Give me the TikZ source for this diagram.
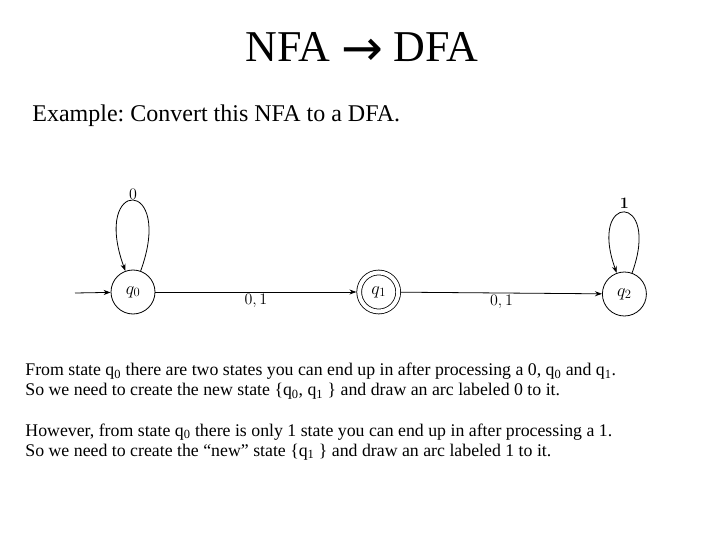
\RequirePackage{fix-cm}
\documentclass[tikz,border=0pt]{standalone}
\usepackage[no-math]{fontspec}
\setmainfont{Liberation Serif}
\newfontfamily\arrowfont{DejaVu Sans}
\usetikzlibrary{arrows.meta,positioning}
\frenchspacing

\begin{document}
\begin{tikzpicture}[->, >={Stealth[length=7pt,width=5pt]}, x=1pt, y=1pt, line width=0.8pt,
  node distance=201pt,
  nstate/.style={circle, draw, minimum size=44pt, inner sep=0pt,
    font=\fontsize{18}{21}\selectfont},
  final/.style={double, double distance=4pt, minimum size=39pt, outer sep=2.8pt},
  lbl/.style={font=\fontsize{16}{19}\selectfont, inner sep=2pt},
  slidetext/.style={anchor=base west, inner sep=0pt, font=\fontsize{17.8}{20}\selectfont}]

\useasboundingbox (0,0) rectangle (720,-540);
\fill[white] (0,0) rectangle (720,-540);

% title and task
\node[anchor=base, inner sep=0pt, font=\fontsize{44}{53}\selectfont] (title) at (362,-62)
  {NFA \raisebox{-3.5pt}{\arrowfont\fontsize{50}{60}\selectfont →} DFA};
\node[anchor=base west, inner sep=0pt, font=\fontsize{24}{29}\selectfont] (task) at (32,-122)
  {Example: Convert this NFA to a DFA.};

% the NFA
\node[nstate] (q0) at (133,-292) {$q_0$};
\node[nstate, final, right=of q0] (q1) {$q_1$};
\node[nstate, right=of q1, yshift=-2pt] (q2) {$q_2$};
\coordinate (start) at (75,-293);

\draw (start) -- (q0);
\draw (q0) -- node[lbl, below] {$0, 1$} (q1);
\draw (q1) -- node[lbl, below] {$0, 1$} (q2);
\path (q0) edge[out=70, in=110, min distance=100pt] node[lbl, above, inner sep=1pt] {$0$} (q0);
\path (q2) edge[out=70, in=110, min distance=86pt] node[lbl, above, inner sep=3pt] {$\mathbf{1}$} (q2);

% explanation
\node[slidetext] (l1) at (25,-375.5) {From state q\textsubscript{0} there are two states you can end up in after processing a 0, q\textsubscript{0} and q\textsubscript{1}.};
\node[slidetext] (l2) at (25,-395.5) {So we need to create the new state \{q\textsubscript{0}, q\textsubscript{1} \} and draw an arc labeled 0 to it.};
\node[slidetext] (l3) at (25,-436) {However, from state q\textsubscript{0} there is only 1 state you can end up in after processing a 1.};
\node[slidetext] (l4) at (25,-456) {So we need to create the ``new'' state \{q\textsubscript{1} \} and draw an arc labeled 1 to it.};

\end{tikzpicture}
\end{document}
